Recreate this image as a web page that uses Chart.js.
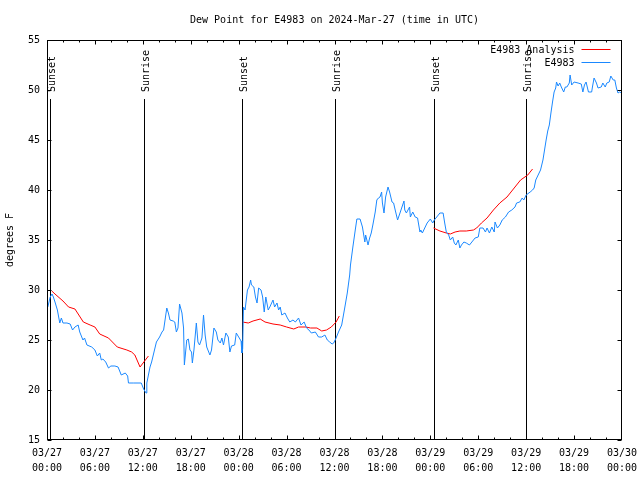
<!DOCTYPE html>
<html>
<head>
<meta charset="utf-8">
<script src="https://cdn.jsdelivr.net/npm/chart.js@4.4.1/dist/chart.umd.min.js"></script>
<style>
html,body{margin:0;padding:0;background:#fff;}
canvas{display:block;}
</style>
</head>
<body>
<canvas id="chart" width="640" height="480"></canvas>
<script>
// hours after 03/27 00:00 UTC
const obsHours = [
0.1,0.4,0.63,0.8,1.0,1.3,1.6,1.8,2.0,2.5,2.9,3.2,3.5,3.9,4.1,4.5,4.7,5.0,5.6,6.0,
6.3,6.6,6.8,7.0,7.35,7.7,8.0,8.5,8.9,9.3,9.8,10.1,10.2,10.8,11.8,12.1,12.4,12.5,12.9,13.1,
13.4,13.7,14.1,14.4,14.6,15.0,15.2,15.4,15.8,16.0,16.2,16.4,16.6,16.9,17.1,17.2,17.5,17.7,17.9,18.1,
18.2,18.4,18.7,18.9,19.1,19.4,19.6,19.8,20.0,20.4,20.6,20.9,21.2,21.4,21.7,21.9,22.1,22.4,22.7,22.9,
23.1,23.5,23.7,24.0,24.3,24.4,24.5,24.6,24.8,25.1,25.3,25.5,25.6,25.9,26.1,26.3,26.5,26.8,27.0,27.2,
27.4,27.7,27.9,28.3,28.5,28.8,29.0,29.2,29.4,29.8,30.1,30.4,30.8,31.1,31.5,31.8,32.2,32.5,32.8,33.1,
33.6,34.0,34.4,34.8,35.1,35.4,35.7,35.9,36.2,36.5,36.9,37.3,37.6,37.9,38.0,38.3,38.6,38.8,39.2,39.5,
39.8,39.9,40.2,40.4,40.6,40.8,41.1,41.3,41.5,41.7,41.9,42.0,42.2,42.4,42.7,42.9,43.2,43.4,43.6,43.9,
44.2,44.7,44.8,45.0,45.4,45.5,45.8,46.1,46.4,46.7,46.8,47.0,47.3,47.6,48.0,48.3,48.5,48.8,49.2,49.6,
49.8,50.0,50.3,50.5,50.8,51.0,51.2,51.5,51.7,51.9,52.2,52.5,52.9,53.2,53.6,54.0,54.2,54.6,54.9,55.1,
55.4,55.7,56.0,56.1,56.4,56.7,57.0,57.4,57.8,58.2,58.6,58.8,59.2,59.5,59.7,60.0,60.5,60.8,61.0,61.2,
61.5,61.8,62.1,62.3,62.5,62.7,62.9,63.1,63.3,63.5,63.7,63.8,64.0,64.2,64.4,64.7,64.9,65.1,65.4,65.5,
65.7,66.0,66.5,66.9,67.1,67.3,67.5,67.8,68.2,68.3,68.5,68.8,69.0,69.4,69.6,69.9,70.1,70.4,70.6,70.9,
71.1,71.3,71.5,71.7,72.0
];
const obsDew = [
28.3,29.3,29.6,29.3,28.8,28.0,26.7,27.2,26.7,26.7,26.6,26.0,26.3,26.5,25.8,25.0,25.2,24.5,24.3,24.0,
23.4,23.7,23.0,23.1,22.8,22.2,22.4,22.4,22.3,21.5,21.7,21.4,20.7,20.7,20.7,20.1,19.7,20.7,22.3,22.8,
23.8,24.8,25.3,25.8,26.0,28.2,27.7,27.0,26.9,26.8,25.8,26.2,28.6,27.7,26.2,22.5,25.0,25.1,24.0,23.8,
22.7,24.0,26.7,24.8,24.5,25.2,27.5,25.5,24.3,23.5,24.0,26.2,25.8,25.0,24.7,25.2,24.5,25.7,25.3,23.8,
24.4,24.5,25.7,25.3,24.9,23.7,24.1,28.3,28.0,30.0,30.3,31.0,30.5,30.3,29.3,28.7,30.2,30.0,29.3,27.8,
29.3,28.0,28.3,29.0,28.3,28.7,28.0,28.3,27.5,27.7,27.2,26.8,27.0,26.8,27.2,26.5,26.8,26.2,26.0,25.7,
25.8,25.3,25.3,25.5,25.0,24.8,24.6,24.7,25.2,25.8,26.5,28.3,29.7,31.5,32.5,34.3,36.0,37.1,37.1,36.3,
34.8,35.5,34.5,35.2,35.7,36.5,37.8,39.0,39.2,39.3,39.8,38.7,37.7,39.3,40.3,39.8,38.8,38.7,38.0,37.0,
37.7,38.9,38.0,37.7,38.3,37.3,37.8,37.3,37.2,35.8,36.0,35.7,36.2,36.7,37.1,36.7,37.0,37.3,37.7,37.7,
36.7,35.8,35.5,35.0,35.3,34.7,34.5,35.0,34.2,34.5,34.8,34.7,34.5,34.8,35.2,35.3,36.2,36.2,35.8,36.2,
35.7,36.3,35.8,36.8,36.2,36.5,37.0,37.3,37.8,38.0,38.3,38.7,38.8,39.2,39.0,39.5,39.8,40.0,40.2,41.0,
41.5,42.0,43.0,44.0,45.0,45.9,46.5,47.7,48.8,49.8,50.2,50.8,50.4,50.7,50.3,49.8,50.3,50.3,50.7,51.5,
50.5,50.8,50.7,50.6,49.8,50.5,50.8,49.8,49.8,50.3,51.2,50.7,50.2,50.3,50.7,50.3,50.7,50.8,51.4,51.0,
51.0,50.2,49.7,49.8,49.7
];

// analysis only at night; null breaks the line
const anaHours = [
0.6,1.0,2.0,2.7,3.5,4.55,5.4,6.0,6.6,7.7,8.8,10.0,10.6,11.0,11.65,12.7,
18.0,
24.5,25.2,25.8,26.7,27.3,28.3,29.2,30.0,30.9,31.5,32.4,33.0,33.8,34.4,35.0,35.6,36.2,36.6,
42.0,
48.4,49.2,50.0,50.5,51.1,51.7,52.5,53.4,53.8,54.4,55.1,55.9,56.7,57.6,58.6,59.3,60.2,60.8
];
const anaDew = [
29.9,29.6,28.9,28.3,28.1,26.8,26.5,26.3,25.6,25.2,24.3,24.0,23.8,23.5,22.3,23.4,
null,
26.8,26.7,26.9,27.1,26.8,26.6,26.5,26.3,26.1,26.3,26.3,26.2,26.2,25.9,26.0,26.3,26.8,27.4,
null,
36.2,35.9,35.7,35.6,35.8,35.9,35.9,36.0,36.2,36.7,37.2,38.0,38.7,39.3,40.3,41.0,41.5,42.1
];

const sunHours = [0.42, 12.18, 24.45, 36.1, 48.5, 60.02];
const sunLabels = ["Sunset","Sunrise","Sunset","Sunrise","Sunset","Sunrise"];

const xTickDates = ["03/27","03/27","03/27","03/27","03/28","03/28","03/28","03/28","03/29","03/29","03/29","03/29","03/30"];
const xTickTimes = ["00:00","06:00","12:00","18:00","00:00","06:00","12:00","18:00","00:00","06:00","12:00","18:00","00:00"];

const seriesLabels = ["E4983 Analysis","E4983"];
const seriesColors = ["#ff0000","#1a88ff"];

const FONT = "'DejaVu Sans Mono', 'Liberation Mono', monospace";

function toPoints(xs, ys){
  return xs.map((h,i) => ({x: h, y: ys[i]}));
}

const gnuFrame = {
  id: "gnuFrame",
  beforeDatasetsDraw(chart){
    const ctx = chart.ctx;
    const a = chart.chartArea;
    const x = chart.scales.x;
    ctx.save();
    ctx.strokeStyle = "#000";
    ctx.fillStyle = "#000";
    ctx.lineWidth = 1;
    ctx.font = "10px " + FONT;
    sunHours.forEach((h,i) => {
      const px = Math.round(x.getPixelForValue(h)) + 0.5;
      ctx.beginPath();
      ctx.moveTo(px, a.top + 59);
      ctx.lineTo(px, a.bottom);
      ctx.stroke();
      ctx.save();
      ctx.translate(px + 1.5, a.top + 52);
      ctx.rotate(-Math.PI/2);
      ctx.textAlign = "left";
      ctx.textBaseline = "middle";
      ctx.fillText(sunLabels[i], 0, 0);
      ctx.restore();
    });
    ctx.restore();
  },
  afterDraw(chart){
    const ctx = chart.ctx;
    const a = chart.chartArea;
    const x = chart.scales.x;
    const y = chart.scales.y;
    ctx.save();
    ctx.strokeStyle = "#000";
    ctx.lineWidth = 1;
    const L = Math.round(a.left) + 0.5, R = Math.round(a.right) - 0.5;
    const T = Math.round(a.top) + 0.5, B = Math.round(a.bottom) - 0.5;
    ctx.strokeRect(L, T, R - L, B - T);
    ctx.beginPath();
    for(let h = 0; h <= 72; h += 2){
      const px = Math.min(Math.round(x.getPixelForValue(h)) + 0.5, R);
      const len = (h % 6 === 0) ? 4 : 2;
      ctx.moveTo(px, B); ctx.lineTo(px, B - len);
      ctx.moveTo(px, T); ctx.lineTo(px, T + len);
    }
    for(let v = 15; v <= 55; v += 5){
      const py = Math.round(y.getPixelForValue(v)) + 0.5;
      ctx.moveTo(L, py); ctx.lineTo(L + 4, py);
      ctx.moveTo(R, py); ctx.lineTo(R - 4, py);
    }
    ctx.stroke();

    // key, inside top right
    ctx.font = "10px " + FONT;
    ctx.fillStyle = "#000";
    ctx.textAlign = "right";
    ctx.textBaseline = "middle";
    seriesLabels.forEach((lab,i) => {
      const ry = a.top + 10 + i * 13;
      ctx.fillText(lab, R - 47, ry);
      ctx.strokeStyle = seriesColors[i];
      ctx.beginPath();
      ctx.moveTo(R - 40, ry - 0.5);
      ctx.lineTo(R - 11, ry - 0.5);
      ctx.stroke();
    });
    ctx.restore();
  }
};

const chart = new Chart(document.getElementById("chart"), {
  type: "line",
  data: {
    datasets: [
      {
        label: seriesLabels[1],
        data: toPoints(obsHours, obsDew),
        borderColor: seriesColors[1],
        borderWidth: 1,
        pointRadius: 0,
        tension: 0
      },
      {
        label: seriesLabels[0],
        data: toPoints(anaHours, anaDew),
        borderColor: seriesColors[0],
        borderWidth: 1,
        pointRadius: 0,
        tension: 0,
        spanGaps: false
      }
    ]
  },
  options: {
    responsive: false,
    devicePixelRatio: 1,
    animation: false,
    layout: { padding: { left: 0, right: 18, top: 0, bottom: 0 } },
    plugins: {
      legend: { display: false },
      tooltip: { enabled: false },
      title: {
        display: true,
        fullSize: false,
        text: "Dew Point for E4983 on 2024-Mar-27 (time in UTC)",
        color: "#000",
        font: { family: FONT, size: 10, weight: "normal", lineHeight: 1.2 },
        padding: { top: 14, bottom: 14 }
      }
    },
    scales: {
      x: {
        type: "linear",
        min: 0,
        max: 72,
        grid: { display: false, drawTicks: false },
        border: { display: false },
        afterFit(scale){
          scale.height = 40;
          scale.paddingLeft = 0;
          scale.paddingRight = 0;
        },
        ticks: {
          stepSize: 6,
          autoSkip: false,
          maxRotation: 0,
          padding: 5.5,
          color: "#000",
          font: { family: FONT, size: 10, lineHeight: 1.5 },
          callback: (v) => {
            const i = Math.round(v / 6);
            return [xTickDates[i], xTickTimes[i]];
          }
        }
      },
      y: {
        min: 15,
        max: 55,
        grid: { display: false, drawTicks: false },
        border: { display: false },
        afterFit(scale){ scale.width = 47; },
        ticks: {
          stepSize: 5,
          padding: 7,
          color: "#000",
          font: { family: FONT, size: 10 }
        },
        title: {
          display: true,
          text: "degrees F",
          color: "#000",
          font: { family: FONT, size: 10, lineHeight: 1.2 },
          padding: { top: 4, bottom: 0 }
        }
      }
    }
  },
  plugins: [gnuFrame]
});
</script>
</body>
</html>
